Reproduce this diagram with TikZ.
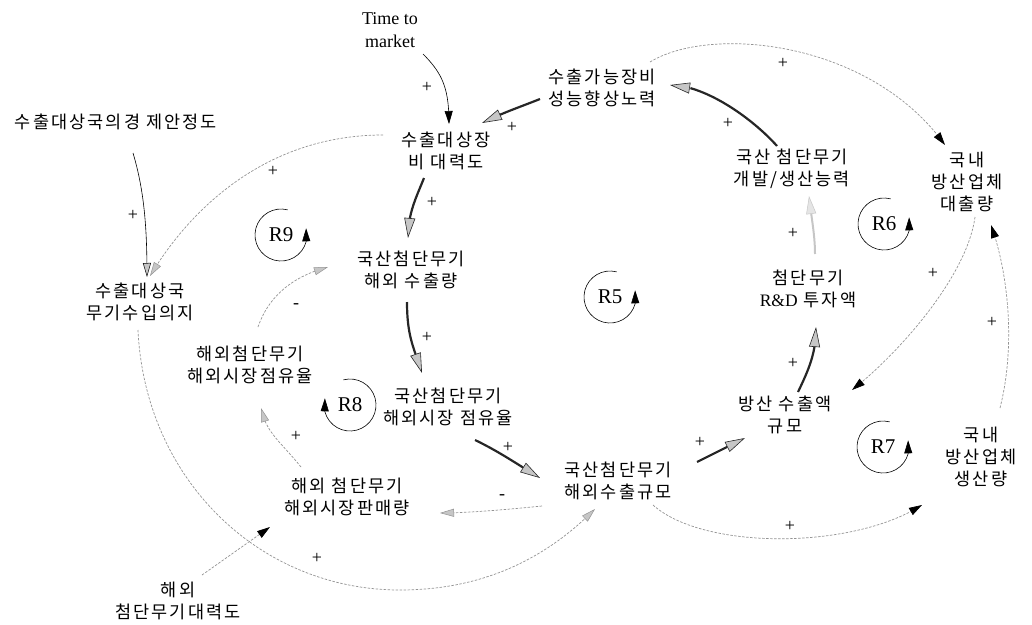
\documentclass[tikz,border=0pt]{standalone}
\usepackage{fontspec}
\setmainfont{Liberation Serif}
\newfontfamily\kr[LetterSpace=12]{Noto Sans CJK KR}
\usepackage{tikz}
\usetikzlibrary{arrows.meta}
\usetikzlibrary{bending}
\usetikzlibrary{calc}

\begin{document}
\begin{tikzpicture}[x=1pt,y=-1pt,
  var/.style={font=\kr\fontsize{17.5}{22}\selectfont, align=center, inner sep=2pt},
  latin/.style={font=\fontsize{18}{23}\selectfont, align=center, inner sep=2pt},
  sgn/.style={font=\fontsize{18}{18}\selectfont, inner sep=0pt},
  loopname/.style={font=\fontsize{21}{21}\selectfont, inner sep=0pt},
  loopline/.style={line width=0.6pt, -{Triangle[length=13pt,width=8pt]}},
  main/.style={line width=2.2pt, black!85,
    -{Triangle[length=20pt,width=11pt,line width=0.6pt,fill=gray!45]}},
  light/.style={line width=2pt, gray!45,
    -{Triangle[length=18pt,width=10pt,line width=0.5pt,fill=gray!20]}},
  link/.style={gray!85, line width=0.7pt, dash pattern=on 2.5pt off 1.5pt},
  graytip/.style={-{Triangle[length=14pt,width=8pt,line width=0.5pt,fill=gray!45]}},
  blacktip/.style={-{Triangle[length=13pt,width=8pt,color=black]}}
]

  \useasboundingbox (0,0) rectangle (1032,624);

  % variables
  \node[latin] (ttm)     at (390,30)  {Time to\\market};
  \node[var]   (econ)    at (116,122) {수출대상국의경 제안정도};
  \node[var]   (attr)    at (446,151) {수출대상장\\비 대력도};
  \node[var]   (perf)    at (602,88)  {수출가능장비\\성능향상노력};
  \node[var]   (devcap)  at (792,169) {국산 첨단무기\\개발/생산능력};
  \node[var]   (sales)   at (967,182) {국내\\방산업체\\대출량};
  \node[var]   (expvol)  at (411,270) {국산첨단무기\\해외 수출량};
  \node[var]   (will)    at (140,302) {수출대상국\\무기수입의지};
  \node[var]   (rnd)     at (808,289) {첨단무기\\{\rmfamily R\&D} 투자액};
  \node[var]   (fshare)  at (250,365) {해외첨단무기\\해외시장점유율};
  \node[var]   (dshare)  at (448,407) {국산첨단무기\\해외시장 점유율};
  \node[var]   (defexp)  at (785,415) {방산 수출액\\규모};
  \node[var]   (prod)    at (981,457) {국내\\방산업체\\생산량};
  \node[var]   (expsize) at (618,481) {국산첨단무기\\해외수출규모};
  \node[var]   (fsales)  at (347,497) {해외 첨단무기\\해외시장판매량};
  \node[var]   (fattr)   at (178,601) {해외\\첨단무기대력도};

  % main export chain
  \draw[main] ([shift={(-62,11)}]perf.center) .. controls +(-20,8) and +(20,-10) .. ([shift={(36,-28)}]attr.center);
  \draw[main] ([shift={(-22,27)}]attr.center) .. controls +(-8,20) and +(0,-25) .. ([shift={(-3,-32)}]expvol.center);
  \draw[main] ([shift={(-4,32)}]expvol.center) .. controls +(0,35) and +(-8,-25) .. ([shift={(-26,-34)}]dshare.center);
  \draw[main] ([shift={(27,33)}]dshare.center) .. controls +(25,12) and +(-20,-12) .. ([shift={(-78,-3)}]expsize.center);
  \draw[main] ([shift={(79,-19)}]expsize.center) -- ([shift={(-40,23)}]defexp.center);
  \draw[main] ([shift={(13,-23)}]defexp.center) .. controls +(12,-25) and +(0,25) .. ([shift={(8,38)}]rnd.center);
  \draw[light] ([shift={(7,-35)}]rnd.center) .. controls +(0,-20) and +(2,20) .. ([shift={(17,27)}]devcap.center);
  \draw[main] ([shift={(-15,-23)}]devcap.center) .. controls +(-25,-28) and +(35,0) .. ([shift={(68,-3)}]perf.center);

  % outer links
  \draw[black, line width=0.6pt, blacktip] ([shift={(33,24)}]ttm.center) .. controls +(20,20) and +(0,-35) .. ([shift={(3,-27)}]attr.center);
  \draw[black, line width=0.6pt, graytip] ([shift={(17,31)}]econ.center) .. controls +(12,40) and +(0,-45) .. ([shift={(7,-25)}]will.center);
  \draw[link, graytip] ([shift={(-63,-16)}]attr.center) .. controls +(-110,0) and +(45,-75) .. ([shift={(10,-26)}]will.center);
  \draw[link, blacktip] ([shift={(48,-26)}]perf.center) .. controls +(60,-37) and +(-75,-105) .. ([shift={(-22,-37)}]sales.center);
  \draw[link, blacktip] ([shift={(8,35)}]sales.center) .. controls +(-8,60) and +(45,-35) .. ([shift={(67,-25)}]defexp.center);
  \draw[link, blacktip] ([shift={(19,-49)}]prod.center) .. controls +(16,-63) and +(17,47) .. ([shift={(24,43)}]sales.center);
  \draw[link, blacktip] ([shift={(35,24)}]expsize.center) .. controls +(50,45) and +(-70,45) .. ([shift={(-59,48)}]prod.center);
  \draw[link, graytip] ([shift={(-76,25)}]expsize.center) .. controls +(-30,3) and +(30,0) .. ([shift={(93,16)}]fsales.center);
  \draw[link, graytip] ([shift={(-46,-30)}]fsales.center) .. controls +(-20,-25) and +(5,25) .. ([shift={(11,43)}]fshare.center);
  \draw[link, graytip] ([shift={(8,-38)}]fshare.center) .. controls +(12,-35) and +(-30,8) .. ([shift={(-83,-3)}]expvol.center);
  \draw[link, blacktip] ([shift={(24,-26)}]fattr.center) -- ([shift={(-77,30)}]fsales.center);

  % long arc under the left loops
  \coordinate (low) at (400,590);
  \draw[link, graytip] ([shift={(-2,28)}]will.center) .. controls +(7,150) and +(-140,0) .. (low)
    .. controls +(100,0) and +(-35,35) .. ([shift={(-23,28)}]expsize.center);

  % polarities
  \node[sgn] (s1)  at (427,87)  {+};
  \node[sgn] (s2)  at (512,127) {+};
  \node[sgn] (s3)  at (133,215) {+};
  \node[sgn] (s4)  at (273,171) {+};
  \node[sgn] (s5)  at (432,202) {+};
  \node[sgn] (s6)  at (783,63)  {+};
  \node[sgn] (s7)  at (728,123) {+};
  \node[sgn] (s8)  at (793,233) {+};
  \node[sgn] (s9)  at (933,273) {+};
  \node[sgn] (s10) at (992,322) {+};
  \node[sgn] (s11) at (427,337) {+};
  \node[sgn] (s12) at (508,447) {+};
  \node[sgn] (s13) at (700,442) {+};
  \node[sgn] (s14) at (793,363) {+};
  \node[sgn] (s15) at (790,526) {+};
  \node[sgn] (s16) at (296,436) {+};
  \node[sgn] (s17) at (317,558) {+};
  \node[sgn] (s18) at (502,497) {-};
  \node[sgn] (s19) at (296,306) {-};

  % loop markers
  \node[loopname] (r9) at (281,235) {R9};
  \draw[loopline] ([shift={(75:26pt)}]r9.center) arc[start angle=75, end angle=375, radius=26pt];
  \node[loopname] (r5) at (610,297) {R5};
  \draw[loopline] ([shift={(75:26pt)}]r5.center) arc[start angle=75, end angle=375, radius=26pt];
  \node[loopname] (r6) at (884,224) {R6};
  \draw[loopline] ([shift={(75:26pt)}]r6.center) arc[start angle=75, end angle=375, radius=26pt];
  \node[loopname] (r7) at (883,447) {R7};
  \draw[loopline] ([shift={(75:26pt)}]r7.center) arc[start angle=75, end angle=375, radius=26pt];
  \node[loopname] (r8) at (350,405) {R8};
  \draw[loopline] ([shift={(105:26pt)}]r8.center) arc[start angle=105, end angle=-195, radius=26pt];

\end{tikzpicture}
\end{document}
